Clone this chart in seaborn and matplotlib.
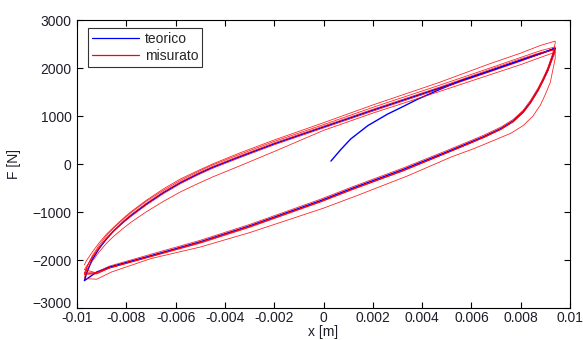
import seaborn as sns
import matplotlib.pyplot as plt
import pandas as pd
from matplotlib.lines import Line2D
from matplotlib.transforms import ScaledTranslation

# teorico: initial rise from the origin, then one full loop
teo_x = [0.0003, 0.0007, 0.0011, 0.0018, 0.0026, 0.0032, 0.0038, 0.0047, 0.0056, 0.0067, 0.0080, 0.0088, 0.0094,
         0.0093, 0.0091, 0.0089, 0.0087, 0.0084, 0.0081, 0.0077, 0.0072, 0.0065, 0.0058, 0.0050, 0.0032,
         0.0012, -0.0001, -0.0030, -0.0050, -0.0070, -0.0087, -0.0092, -0.0097,
         -0.0096, -0.0094, -0.0091, -0.0088, -0.0085, -0.0081, -0.0078, -0.0072, -0.0065, -0.0058,
         -0.0051, -0.0045, -0.0034, -0.0020, 0.0, 0.0020, 0.0047, 0.0067, 0.0080, 0.0088, 0.0094]
teo_y = [60, 300, 520, 800, 1040, 1190, 1345, 1550, 1740, 1930, 2160, 2300, 2410,
         2250, 1960, 1740, 1540, 1290, 1090, 900, 740, 570, 420, 250, -120,
         -500, -760, -1290, -1620, -1910, -2150, -2250, -2430,
         -2260, -2010, -1760, -1560, -1390, -1200, -1070, -840, -600, -390,
         -210, -70, 150, 420, 770, 1120, 1580, 1930, 2160, 2300, 2410]

# misurato: five measured cycles (upper branch, then lower branch)
up_x = [-0.0097, -0.0096, -0.0094, -0.0091, -0.0088, -0.0085, -0.0081, -0.0078, -0.0072, -0.0065, -0.0058,
        -0.0051, -0.0045, -0.0034, -0.0020, 0.0, 0.0020, 0.0047, 0.0067, 0.0080, 0.0088, 0.0094]
dn_x = [0.0094, 0.0093, 0.0091, 0.0089, 0.0087, 0.0084, 0.0081, 0.0077, 0.0072, 0.0065, 0.0058,
        0.0050, 0.0032, 0.0012, -0.0001, -0.0030, -0.0050, -0.0070, -0.0087, -0.0092, -0.0097]
dn_x_out = [0.0094, 0.0094, 0.0093, 0.0092, 0.0090, 0.0088, 0.0085, 0.0081, 0.0076, 0.0069, 0.0061,
            0.0052, 0.0034, 0.0014, 0.0, -0.0030, -0.0050, -0.0070, -0.0086, -0.0092, -0.0096]

mis_a_up = [-2270, -2150, -1930, -1690, -1490, -1330, -1140, -1010, -780, -550, -340,
            -160, -20, 200, 470, 820, 1180, 1640, 1990, 2220, 2360, 2440]
mis_a_dn = [2440, 2290, 2000, 1780, 1580, 1330, 1120, 930, 770, 600, 450,
            280, -90, -470, -730, -1260, -1590, -1880, -2130, -2260, -2270]
mis_b_up = [-2100, -2000, -1850, -1640, -1460, -1310, -1120, -990, -760, -520, -310,
            -140, 0, 230, 500, 860, 1230, 1700, 2080, 2310, 2470, 2560]
mis_b_dn = [2520, 2300, 2000, 1760, 1550, 1290, 1080, 890, 730, 560, 400,
            230, -150, -520, -780, -1310, -1640, -1930, -2170, -2280, -2280]
mis_c_up = [-2300, -2200, -2040, -1830, -1650, -1500, -1330, -1210, -1000, -780, -580,
            -410, -270, -40, 260, 700, 1060, 1510, 1850, 2070, 2220, 2330]
mis_c_dn = [2330, 2200, 1930, 1720, 1520, 1270, 1070, 880, 720, 550, 400,
            230, -140, -520, -780, -1300, -1630, -1920, -2170, -2290, -2300]
mis_d_up = [-2380, -2150, -1960, -1730, -1540, -1380, -1180, -1050, -820, -580, -370,
            -190, -50, 170, 440, 790, 1140, 1600, 1960, 2190, 2320, 2380]
mis_d_dn = [2380, 2200, 1950, 1700, 1450, 1230, 1000, 800, 640, 490, 320,
            150, -250, -650, -920, -1430, -1730, -1970, -2250, -2400, -2390]
mis_e_up = [-2200, -2120, -1960, -1740, -1550, -1390, -1210, -1090, -860, -620, -410,
            -230, -90, 130, 400, 750, 1100, 1560, 1910, 2140, 2290, 2390]
mis_e_dn = [2390, 2230, 1940, 1720, 1520, 1270, 1070, 880, 720, 550, 400,
            230, -150, -530, -790, -1320, -1650, -1930, -2170, -2270, -2200]

cycles = [
    (up_x, mis_a_up, dn_x, mis_a_dn),
    (up_x, mis_b_up, dn_x, mis_b_dn),
    (up_x, mis_c_up, dn_x, mis_c_dn),
    (up_x, mis_d_up, dn_x_out, mis_d_dn),
    (up_x, mis_e_up, dn_x, mis_e_dn),
]

rows = []
for k, (ux, uy, dx, dy) in enumerate(cycles):
    for xx, yy in zip(ux + dx, uy + dy):
        rows.append({'x': xx, 'F': yy, 'ciclo': k})
df_mis = pd.DataFrame(rows)
df_teo = pd.DataFrame({'x': teo_x, 'F': teo_y})

sns.set_theme(style="white")
plt.rcParams['font.family'] = ['Liberation Sans', 'DejaVu Sans']
plt.rcParams['xtick.direction'] = 'in'
plt.rcParams['ytick.direction'] = 'in'

fig = plt.figure(figsize=(5.83, 3.40), dpi=100)
ax = fig.add_axes([77/583, 32/340, 493/583, 288/340])

sns.lineplot(data=df_teo, x='x', y='F', sort=False, estimator=None, color='blue', lw=1.0, ax=ax)
sns.lineplot(data=df_mis, x='x', y='F', units='ciclo', sort=False, estimator=None,
             color='red', lw=0.6, alpha=0.85, ax=ax)

ax.set_xlim(-0.01, 0.01)
ax.set_ylim(-3000, 3000)
xt = [-0.01, -0.008, -0.006, -0.004, -0.002, 0, 0.002, 0.004, 0.006, 0.008, 0.01]
ax.set_xticks(xt)
ax.set_xticklabels(['-0.01', '-0.008', '-0.006', '-0.004', '-0.002', '0',
                    '0.002', '0.004', '0.006', '0.008', '0.01'])
ax.set_yticks([-3000, -2000, -1000, 0, 1000, 2000, 3000])
ax.tick_params(axis='both', which='both', length=4, width=0.8, color='black',
               labelsize=10, labelcolor='#1e1e2a', top=True, right=True,
               bottom=True, left=True)
ax.tick_params(axis='x', pad=2)
ax.tick_params(axis='y', pad=4)
for s in ax.spines.values():
    s.set_color('black')
    s.set_linewidth(0.8)

# lift the lowest y label a little so it clears "-0.01"
lab = ax.get_yticklabels()[0]
lab.set_transform(lab.get_transform() + ScaledTranslation(0, 4/72, fig.dpi_scale_trans))

ax.set_xlabel('x [m]', fontsize=10, color='#1e1e2a', labelpad=0)
ax.set_ylabel('F [N]', fontsize=10, color='#1e1e2a', labelpad=8)

handles = [Line2D([], [], color='blue', lw=0.9), Line2D([], [], color='red', lw=0.9)]
leg = ax.legend(handles, ['teorico', 'misurato'], loc='upper left',
                bbox_to_anchor=(0.0217, 0.972), borderaxespad=0, fancybox=False,
                framealpha=1, edgecolor='#333333', fontsize=10, handlelength=3.4,
                handletextpad=0.4, labelspacing=0.2, borderpad=0.3)
leg.get_frame().set_linewidth(0.8)

fig.savefig('out.png', dpi=100)
